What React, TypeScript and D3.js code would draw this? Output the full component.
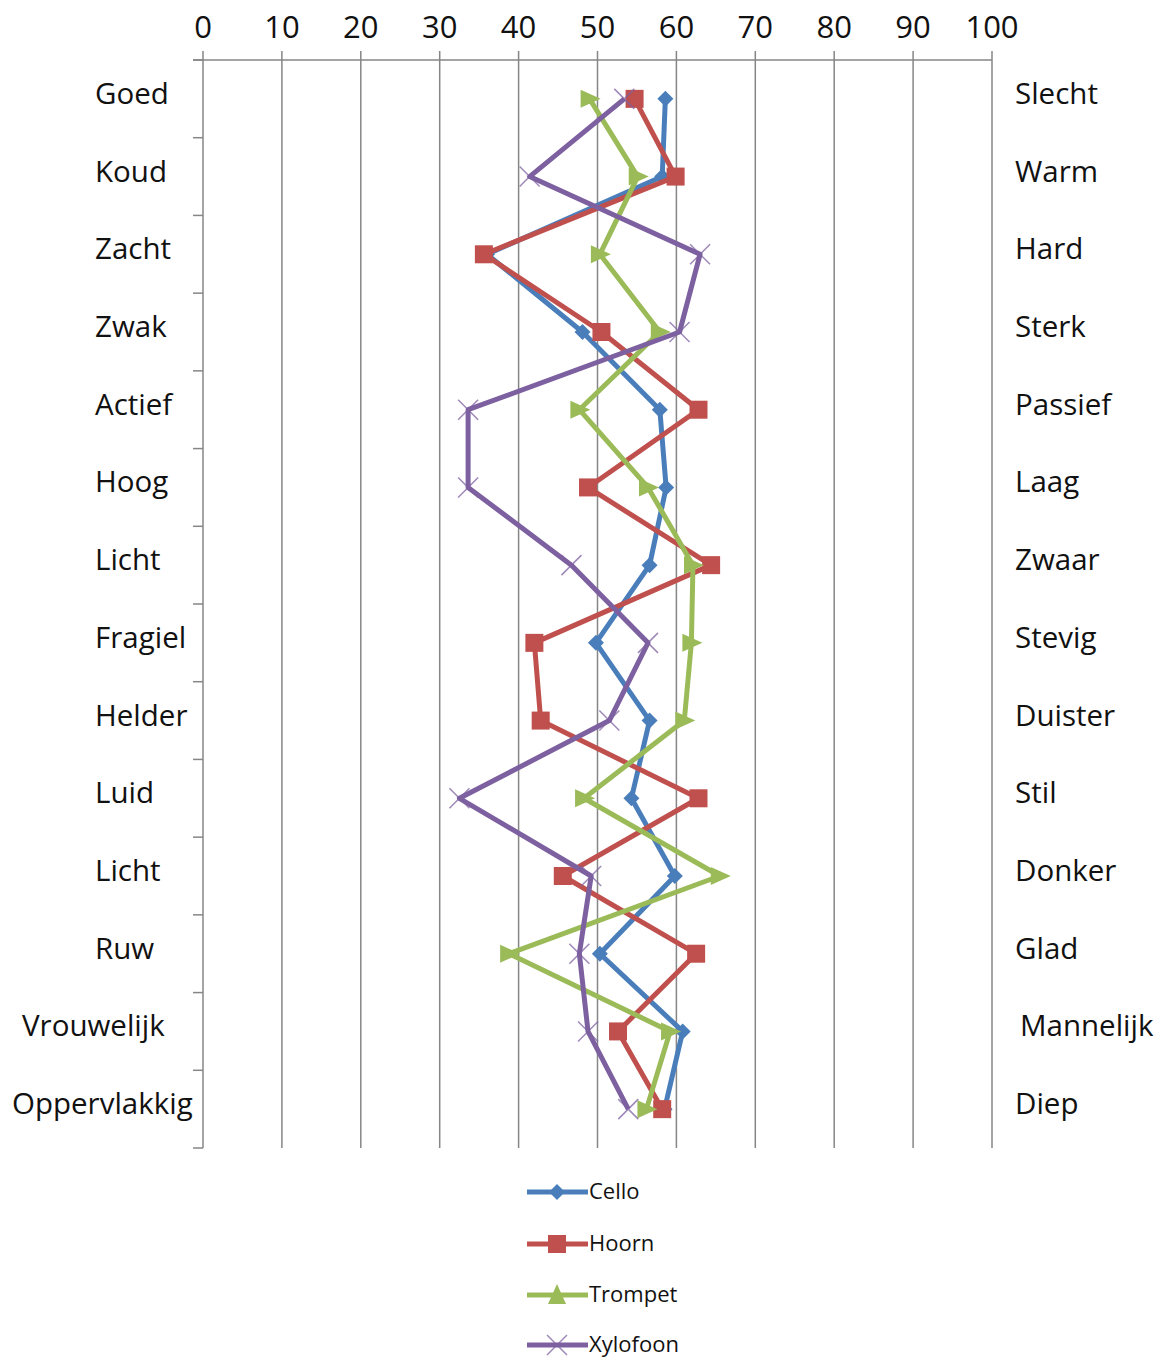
import React from "react";
import * as d3 from "d3";

// Semantic differential: left pole / right pole per row
const leftPoles = ["Goed", "Koud", "Zacht", "Zwak", "Actief", "Hoog", "Licht", "Fragiel", "Helder", "Luid", "Licht", "Ruw", "Vrouwelijk", "Oppervlakkig"];
const rightPoles = ["Slecht", "Warm", "Hard", "Sterk", "Passief", "Laag", "Zwaar", "Stevig", "Duister", "Stil", "Donker", "Glad", "Mannelijk", "Diep"];
const xTicks = [0, 10, 20, 30, 40, 50, 60, 70, 80, 90, 100];

const cello = [58.6, 58.2, 36, 48.1, 57.9, 58.7, 56.6, 49.8, 56.6, 54.3, 59.8, 50.3, 60.8, 58.5];
const hoorn = [54.7, 59.9, 35.6, 50.5, 62.8, 48.8, 64.4, 42, 42.8, 62.8, 45.6, 62.5, 52.6, 58.2];
const trompet = [49, 55.1, 50.3, 57.9, 47.7, 56.4, 62.1, 61.9, 61, 48.3, 65.5, 38.8, 59.2, 56.2];
const xylofoon = [53.4, 41.4, 63, 60.4, 33.6, 33.6, 46.7, 56.4, 51.5, 32.5, 49.2, 47.7, 48.8, 53.9];

const seriesNames = ["Cello", "Hoorn", "Trompet", "Xylofoon"];
const seriesValues = [cello, hoorn, trompet, xylofoon];
const seriesColors = ["#4a7ebb", "#c0504d", "#9bbb59", "#7d60a0"];
const seriesMarkers = ["diamond", "square", "triangle", "x"];

const W = 1167;
const H = 1358;
const plot = { left: 203, right: 992, top: 60, bottom: 1148 };
const FONT = "'Open Sans', 'Liberation Sans', sans-serif";

const x = d3.scaleLinear().domain([0, 100]).range([plot.left, plot.right]);
const y = d3.scaleBand<number>().domain(d3.range(leftPoles.length)).range([plot.top, plot.bottom]);
const yc = (i: number) => (y(i) as number) + y.bandwidth() / 2;

// Label start positions for the long left-hand words
const leftLabelX: Record<string, number> = { Vrouwelijk: 22, Oppervlakkig: 12 };
const rightLabelX: Record<string, number> = { Mannelijk: 1020 };

function Marker({ kind, cx, cy, color, legend }: { kind: string; cx: number; cy: number; color: string; legend?: boolean }) {
  if (kind === "diamond") {
    const s = 8;
    return <path d={`M${cx},${cy - s}L${cx + s},${cy}L${cx},${cy + s}L${cx - s},${cy}Z`} fill={color} />;
  }
  if (kind === "square") {
    const s = 9;
    return <rect x={cx - s} y={cy - s} width={2 * s} height={2 * s} fill={color} />;
  }
  if (kind === "triangle") {
    const s = 9;
    if (legend) {
      return <path d={`M${cx},${cy - s - 2}L${cx + s},${cy + s}L${cx - s},${cy + s}Z`} fill={color} />;
    }
    // triangle pointing right along the horizontal value axis
    return <path d={`M${cx + s + 2},${cy}L${cx - s},${cy - s}L${cx - s},${cy + s}Z`} fill={color} />;
  }
  const s = 10;
  return (
    <path
      d={`M${cx - s},${cy - s}L${cx + s},${cy + s}M${cx - s},${cy + s}L${cx + s},${cy - s}`}
      stroke={color}
      strokeWidth={1.5}
      opacity={0.75}
      fill="none"
    />
  );
}

export default function App() {
  const line = d3
    .line<number>()
    .x((v) => x(v))
    .y((_, i) => yc(i));

  const legendY = [1192, 1244, 1295, 1345];

  return (
    <svg width={W} height={H} style={{ display: "block", position: "absolute", left: 0, top: 0 }} fontFamily={FONT}>
      <rect width={W} height={H} fill="#fff" />
      {/* vertical gridlines */}
      {xTicks.map((t) => (
        <line key={"g" + t} x1={x(t)} x2={x(t)} y1={plot.top - 9} y2={plot.bottom} stroke="#868686" strokeWidth={1.5} />
      ))}
      {/* top axis */}
      <line x1={plot.left - 10} x2={plot.right} y1={plot.top} y2={plot.top} stroke="#868686" strokeWidth={1.5} />
      {/* left axis ticks */}
      {d3.range(leftPoles.length + 1).map((i) => {
        const yy = plot.top + i * y.step();
        return <line key={"t" + i} x1={plot.left - 10} x2={plot.left} y1={yy} y2={yy} stroke="#868686" strokeWidth={1.5} />;
      })}
      {xTicks.map((t) => (
        <text key={"l" + t} x={x(t)} y={38} textAnchor="middle" fontSize={31} fill="#111">
          {t}
        </text>
      ))}
      {leftPoles.map((p, i) => (
        <text key={"lp" + i} x={leftLabelX[p] ?? 95} y={yc(i) + 5} fontSize={29.5} fill="#111">
          {p}
        </text>
      ))}
      {rightPoles.map((p, i) => (
        <text key={"rp" + i} x={rightLabelX[p] ?? 1015} y={yc(i) + 5} fontSize={29.5} fill="#111">
          {p}
        </text>
      ))}
      {seriesValues.map((vals, s) => (
        <g key={"s" + s}>
          <path d={line(vals) || ""} fill="none" stroke={seriesColors[s]} strokeWidth={5} strokeLinejoin="round" />
          {vals.map((v, i) => (
            <Marker key={i} kind={seriesMarkers[s]} cx={x(v)} cy={yc(i)} color={seriesColors[s]} />
          ))}
        </g>
      ))}
      {/* legend */}
      {seriesNames.map((n, s) => (
        <g key={"lg" + s}>
          <line x1={527} x2={588} y1={legendY[s]} y2={legendY[s]} stroke={seriesColors[s]} strokeWidth={5} />
          <Marker kind={seriesMarkers[s]} cx={557} cy={legendY[s]} color={seriesColors[s]} legend />
          <text x={589} y={legendY[s] + 7} fontSize={22} fill="#111">
            {n}
          </text>
        </g>
      ))}
    </svg>
  );
}
